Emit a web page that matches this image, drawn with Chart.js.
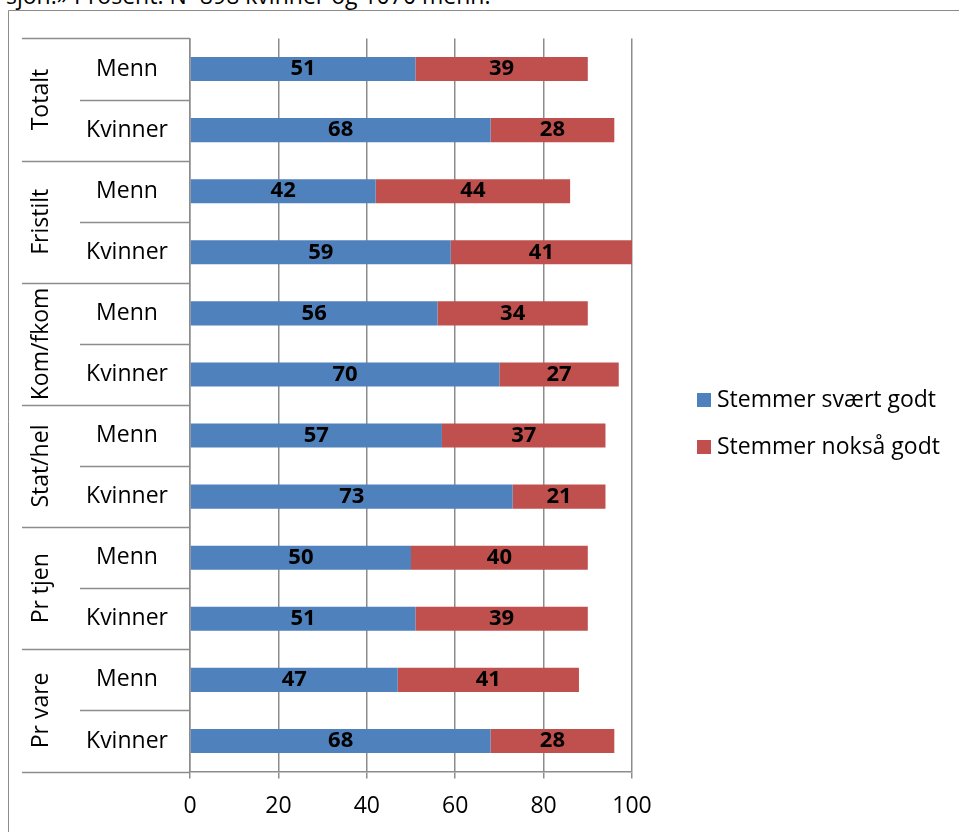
<!DOCTYPE html>
<html lang="no">
<head>
<meta charset="utf-8">
<title>Stemmer svært godt / nokså godt</title>
<script src="https://cdn.jsdelivr.net/npm/chart.js@4"></script>
<style>
  html, body { margin: 0; padding: 0; background: #fff; }
  body { width: 959px; height: 832px; position: relative; overflow: hidden; }
  #note {
    position: absolute; left: 6px; top: -21px; white-space: nowrap;
    font-family: "Open Sans", "Liberation Sans", sans-serif; font-size: 23px; color: #000;
  }
  #wrap { position: absolute; left: 0; top: 0; width: 959px; height: 832px; }
</style>
</head>
<body>
<div id="note">sjon.» Prosent. N=898 kvinner og 1070 menn.</div>
<div id="wrap"><canvas id="c" width="959" height="832"></canvas></div>
<script>
// Sector groups and the two rows in each group
const groups = ['Totalt', 'Fristilt', 'Kom/fkom', 'Stat/hel', 'Pr tjen', 'Pr vare'];
const genders = ['Menn', 'Kvinner'];

// Percent answering, one value per row (Menn, Kvinner for each group)
const svaertGodt = [51, 68, 42, 59, 56, 70, 57, 73, 50, 51, 47, 68];
const noksaGodt  = [39, 28, 44, 41, 34, 27, 37, 21, 40, 39, 41, 28];

// Value axis ticks
const xTicks = [0, 20, 40, 60, 80, 100];

const seriesNames = ['Stemmer svært godt', 'Stemmer nokså godt'];
const seriesColors = ['#4F81BD', '#C0504D'];

const rowLabels = [];
groups.forEach(g => genders.forEach(s => rowLabels.push(g + '|' + s)));

const FONT = '"Open Sans", "Liberation Sans", sans-serif';
const LINE = '#8c8c8c';

// Two-level category labels, separators, frame, value labels and legend
const decorations = {
  id: 'decorations',
  afterDatasetsDraw(chart) {
    const ctx = chart.ctx;
    const y = chart.scales.y;
    const area = chart.chartArea;
    const step = (y.getPixelForValue(1) - y.getPixelForValue(0));
    ctx.save();

    // outer frame
    ctx.strokeStyle = LINE;
    ctx.lineWidth = 1;
    ctx.beginPath();
    ctx.moveTo(8.5, 840);
    ctx.lineTo(8.5, 10.5);
    ctx.lineTo(970, 10.5);
    ctx.stroke();

    // separators on the category side
    ctx.lineWidth = 1.5;
    ctx.beginPath();
    for (let i = 0; i <= rowLabels.length; i++) {
      const py = Math.round(y.getPixelForValue(i) - step / 2) + 0.5;
      const x0 = (i % 2 === 0) ? 22 : 80;
      ctx.moveTo(x0, py);
      ctx.lineTo(area.left, py);
    }
    ctx.stroke();

    // row labels
    ctx.fillStyle = '#000';
    ctx.textAlign = 'center';
    ctx.textBaseline = 'middle';
    ctx.font = '23px ' + FONT;
    rowLabels.forEach((lab, i) => {
      const name = lab.split('|')[1];
      ctx.fillText(name, 127, y.getPixelForValue(i));
    });

    // group labels, rotated
    groups.forEach((g, gi) => {
      const cy = (y.getPixelForValue(gi * 2) + y.getPixelForValue(gi * 2 + 1)) / 2;
      ctx.save();
      ctx.translate(41, cy);
      ctx.rotate(-Math.PI / 2);
      ctx.fillText(g, 0, 0);
      ctx.restore();
    });

    // value labels in the middle of each segment
    ctx.font = 'bold 22px ' + FONT;
    chart.data.datasets.forEach((ds, di) => {
      const meta = chart.getDatasetMeta(di);
      meta.data.forEach((bar, i) => {
        const { x, base, y: by } = bar.getProps(['x', 'base', 'y'], true);
        ctx.fillText(String(ds.data[i]), (x + base) / 2, by);
      });
    });

    // legend
    ctx.textAlign = 'left';
    ctx.font = '23px ' + FONT;
    const legY = [400, 447];
    seriesNames.forEach((n, i) => {
      ctx.fillStyle = seriesColors[i];
      ctx.fillRect(697, legY[i] - 7, 14, 14);
      ctx.fillStyle = '#000';
      ctx.fillText(n, 717, legY[i]);
    });

    ctx.restore();
  }
};

new Chart(document.getElementById('c'), {
  type: 'bar',
  data: {
    labels: rowLabels,
    datasets: [
      { label: seriesNames[0], data: svaertGodt, backgroundColor: seriesColors[0] },
      { label: seriesNames[1], data: noksaGodt, backgroundColor: seriesColors[1] }
    ]
  },
  options: {
    indexAxis: 'y',
    responsive: false,
    animation: false,
    devicePixelRatio: 1,
    layout: { padding: { left: 0, top: 38.5, right: 327, bottom: 0 } },
    datasets: { bar: { categoryPercentage: 1, barPercentage: 0.395, borderWidth: 0 } },
    plugins: { legend: { display: false }, tooltip: { enabled: false } },
    scales: {
      x: {
        stacked: true,
        min: 0, max: 100,
        afterFit(scale) { scale.height = 60.5; },
        afterBuildTicks(scale) { scale.ticks = xTicks.map(v => ({ value: v })); },
        grid: { color: LINE, lineWidth: 1.5, tickLength: 7, drawOnChartArea: true },
        border: { display: true, color: LINE, width: 1.5 },
        ticks: { color: '#000', font: { family: FONT, size: 23 }, padding: 14 }
      },
      y: {
        stacked: true,
        afterFit(scale) { scale.width = 190; },
        grid: { display: false },
        border: { display: true, color: LINE, width: 1.5 },
        ticks: { display: false }
      }
    }
  },
  plugins: [decorations]
});
</script>
</body>
</html>
